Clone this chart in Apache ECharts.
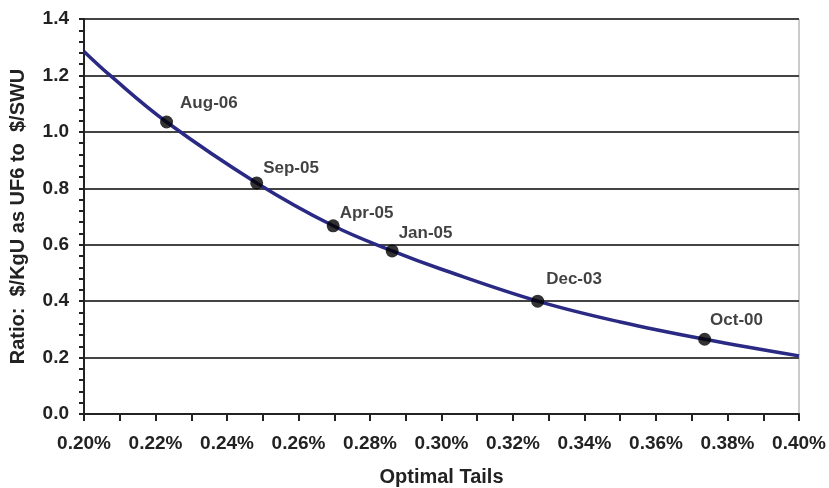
<!DOCTYPE html>
<html><head><meta charset="utf-8">
<script src="https://cdn.jsdelivr.net/npm/echarts@6/dist/echarts.min.js"></script>
<style>html,body{margin:0;padding:0;background:#fff}#c{width:829px;height:488px}</style>
</head><body><div id="c"></div>
<script>
// Curve (Optimal tails %, ratio)
const curveTails = [0.200, 0.2073, 0.2231, 0.2483, 0.2697, 0.2862, 0.300, 0.3269, 0.350, 0.3736, 0.400];
const curveRatio = [1.285, 1.200, 1.035, 0.819, 0.667, 0.578, 0.513, 0.400, 0.326, 0.265, 0.206];
// Marked dates
const pointNames = ['Aug-06', 'Sep-05', 'Apr-05', 'Jan-05', 'Dec-03', 'Oct-00'];
const pointTails = [0.2231, 0.2483, 0.2697, 0.2862, 0.3269, 0.3736];
const pointRatio = [1.035, 0.819, 0.667, 0.578, 0.400, 0.265];
const labelOffsets = [[7, -19], [0, -15], [0, -12], [0, -18], [2, -22], [-1, -19]];

const chart = echarts.init(document.getElementById('c'));
const font = '"Liberation Sans", Arial, sans-serif';
chart.setOption({
  animation: false,
  grid: { left: 84, right: 30, top: 19, bottom: 74, show: true, borderColor: '#999', borderWidth: 1,
    outerBoundsMode: 'none', containLabel: false },
  xAxis: {
    type: 'value', min: 0.2, max: 0.4, interval: 0.01,
    name: 'Optimal Tails', nameLocation: 'middle', nameGap: 53,
    nameTextStyle: { fontFamily: font, fontWeight: 'bold', fontSize: 20, color: '#222' },
    axisLine: { lineStyle: { color: '#222', width: 2 } },
    axisTick: { show: true, length: 7, lineStyle: { color: '#222', width: 2 } },
    axisLabel: {
      margin: 20, fontFamily: font, fontWeight: 'bold', fontSize: 19, color: '#222',
      formatter: v => (Math.round(v * 100) % 2 === 0 ? v.toFixed(2) + '%' : '')
    },
    splitLine: { show: false }
  },
  yAxis: {
    type: 'value', min: 0, max: 1.4, interval: 0.2,
    name: 'Ratio:  $/KgU as UF6 to  $/SWU', nameLocation: 'middle', nameGap: 56,
    nameTextStyle: { fontFamily: font, fontWeight: 'bold', fontSize: 20, color: '#222' },
    axisLine: { show: true, lineStyle: { color: '#222', width: 2 } },
    axisTick: { show: true, length: 5, lineStyle: { color: '#222', width: 2 } },
    minorTick: { show: true, splitNumber: 5, length: 5, lineStyle: { color: '#222', width: 2 } },
    axisLabel: { margin: 15, fontFamily: font, fontWeight: 'bold', fontSize: 19, color: '#222',
      formatter: v => v.toFixed(1) },
    splitLine: { show: true, lineStyle: { color: '#444', width: 2 } }
  },
  series: [
    {
      type: 'line', smooth: 0.4, showSymbol: false, symbol: 'none',
      data: curveTails.map((x, i) => [x, curveRatio[i]]),
      lineStyle: { color: '#2a2a84', width: 3.5 }, z: 2
    },
    {
      type: 'scatter', symbolSize: 13, z: 3,
      itemStyle: { color: '#000' },
      data: pointTails.map((x, i) => ({
        value: [x, pointRatio[i]],
        label: {
          show: true, position: 'right', distance: 0, formatter: pointNames[i],
          offset: labelOffsets[i],
          fontFamily: font, fontWeight: 'bold', fontSize: 17, color: '#111'
        }
      }))
    }
  ]
});
</script></body></html>
